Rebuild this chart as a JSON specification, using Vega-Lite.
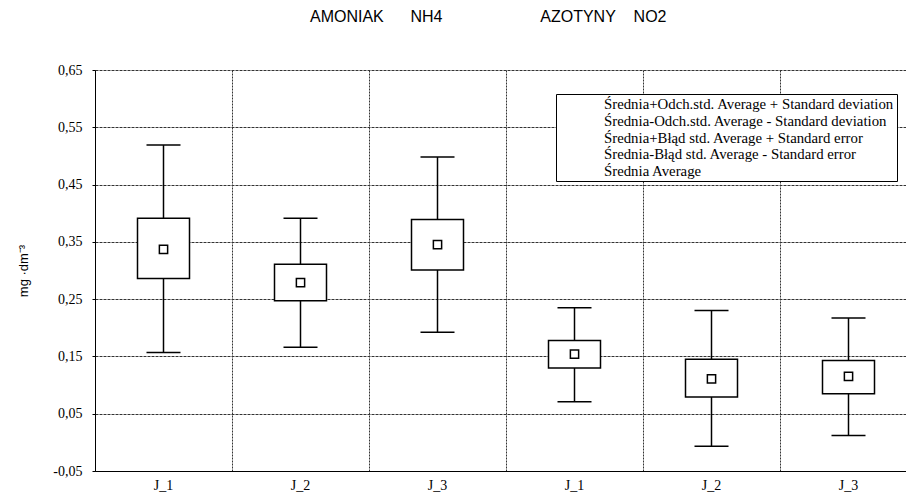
{
  "$schema": "https://vega.github.io/schema/vega-lite/v6.json",
  "autosize": "none",
  "width": 822,
  "height": 401,
  "padding": {"left": 95, "top": 70, "right": -11, "bottom": 24},
  "background": "white",
  "config": {
    "view": {"stroke": null},
    "font": "Liberation Sans",
    "locale": {"number": {"decimal": ",", "thousands": " ", "grouping": [3], "currency": ["", ""], "minus": "-"}}
  },
  "title": {
    "text": "AMONIAK\u00a0\u00a0\u00a0\u00a0\u00a0\u00a0NH4\u00a0\u00a0\u00a0\u00a0\u00a0\u00a0\u00a0\u00a0\u00a0\u00a0\u00a0\u00a0\u00a0\u00a0\u00a0\u00a0\u00a0\u00a0\u00a0\u00a0\u00a0\u00a0AZOTYNY\u00a0\u00a0\u00a0\u00a0NO2",
    "anchor": "start",
    "frame": "group",
    "dx": 215,
    "baseline": "bottom",
    "offset": 22,
    "font": "Liberation Sans",
    "fontSize": 16,
    "fontWeight": "normal",
    "color": "black"
  },
  "data": {
    "values": [
      {"cat": "J_1", "stat": "Średnia Average", "mean": 0.337, "sd_lo": 0.157, "sd_hi": 0.519, "se_lo": 0.286, "se_hi": 0.391},
      {"cat": "J_2", "stat": "Średnia Average", "mean": 0.279, "sd_lo": 0.166, "sd_hi": 0.391, "se_lo": 0.247, "se_hi": 0.311},
      {"cat": "J_3", "stat": "Średnia Average", "mean": 0.345, "sd_lo": 0.192, "sd_hi": 0.498, "se_lo": 0.301, "se_hi": 0.389},
      {"cat": "J_1\u200b", "stat": "Średnia Average", "mean": 0.154, "sd_lo": 0.071, "sd_hi": 0.235, "se_lo": 0.130, "se_hi": 0.178},
      {"cat": "J_2\u200b", "stat": "Średnia Average", "mean": 0.111, "sd_lo": -0.007, "sd_hi": 0.230, "se_lo": 0.079, "se_hi": 0.145},
      {"cat": "J_3\u200b", "stat": "Średnia Average", "mean": 0.115, "sd_lo": 0.012, "sd_hi": 0.217, "se_lo": 0.085, "se_hi": 0.143}
    ]
  },
  "resolve": {"axis": {"x": "independent"}},
  "layer": [
    {
      "mark": {"type": "rule", "color": "black", "strokeWidth": 1.5},
      "encoding": {
        "x": {
          "field": "cat",
          "type": "nominal",
          "sort": null,
          "scale": {"type": "band", "paddingInner": 0, "paddingOuter": 0},
          "axis": {
            "orient": "top",
            "title": null,
            "labels": false,
            "ticks": false,
            "domain": false,
            "bandPosition": 0,
            "grid": true,
            "gridColor": "#333333",
            "gridDash": [2, 1],
            "gridWidth": 1,
            "gridOpacity": 1
          }
        },
        "y": {
          "field": "sd_lo",
          "type": "quantitative",
          "scale": {"domain": [-0.05, 0.65], "nice": false, "zero": false},
          "axis": {
            "title": "mg ·dm⁻³",
            "titleFont": "Liberation Sans",
            "titleFontSize": 13,
            "titleFontWeight": "normal",
            "titleColor": "black",
            "titlePadding": 22,
            "values": [-0.05, 0.05, 0.15, 0.25, 0.35, 0.45, 0.55, 0.65],
            "format": ".2f",
            "labelFont": "Liberation Serif",
            "labelFontSize": 14,
            "labelColor": "black",
            "labelPadding": 10,
            "tickSize": 3,
            "tickColor": "black",
            "domainColor": "black",
            "domainWidth": 1,
            "grid": true,
            "gridColor": "#333333",
            "gridDash": [3, 1],
            "gridWidth": 1,
            "gridOpacity": 1
          }
        },
        "y2": {"field": "sd_hi"}
      }
    },
    {
      "mark": {"type": "tick", "color": "black", "size": 34, "thickness": 1.5, "opacity": 1},
      "encoding": {
        "x": {
          "field": "cat",
          "type": "nominal",
          "sort": null,
          "axis": {
            "title": null,
            "labelAngle": 0,
            "labelFont": "Liberation Serif",
            "labelFontSize": 14,
            "labelColor": "black",
            "labelPadding": 7,
            "ticks": false,
            "grid": false,
            "domainColor": "black",
            "domainWidth": 1
          }
        },
        "y": {"field": "sd_hi", "type": "quantitative"}
      }
    },
    {
      "mark": {"type": "tick", "color": "black", "size": 34, "thickness": 1.5, "opacity": 1},
      "encoding": {
        "x": {"field": "cat", "type": "nominal", "sort": null, "axis": null},
        "y": {"field": "sd_lo", "type": "quantitative"}
      }
    },
    {
      "mark": {"type": "bar", "width": 52, "fill": "white", "stroke": "black", "strokeWidth": 1.5},
      "encoding": {
        "x": {"field": "cat", "type": "nominal", "sort": null, "axis": null},
        "y": {"field": "se_lo", "type": "quantitative"},
        "y2": {"field": "se_hi"}
      }
    },
    {
      "mark": {"type": "point", "filled": false, "fill": "white", "color": "black", "stroke": "black", "strokeWidth": 1.5, "size": 225, "opacity": 1},
      "encoding": {
        "x": {"field": "cat", "type": "nominal", "sort": null, "axis": null},
        "y": {"field": "mean", "type": "quantitative"},
        "shape": {
          "field": "stat",
          "type": "nominal",
          "scale": {
            "domain": [
              "Średnia+Odch.std. Average + Standard deviation",
              "Średnia-Odch.std. Average - Standard deviation",
              "Średnia+Błąd std. Average + Standard error",
              "Średnia-Błąd std. Average - Standard error",
              "Średnia Average"
            ],
            "range": [
              "M-1.33,-0.67H1.33M0,-0.67V0.67M-1.33,0.67H1.33",
              "M0,0",
              "M-1.33,-0.55H1.33V0.55H-1.33Z",
              "M0,0",
              "M-0.55,-0.55H0.55V0.55H-0.55Z"
            ]
          },
          "legend": {
            "title": null,
            "orient": "none",
            "legendX": 461,
            "legendY": 24,
            "padding": 2,
            "symbolOffset": 12.5,
            "labelOffset": 16.5,
            "rowPadding": 0.5,
            "symbolSize": 225,
            "symbolStrokeColor": "black",
            "symbolFillColor": "white",
            "symbolStrokeWidth": 1.3,
            "symbolOpacity": 1,
            "labelFont": "Liberation Serif",
            "labelFontSize": 14.8,
            "labelColor": "black",
            "labelLimit": 500,
            "strokeColor": "black",
            "fillColor": "white",
            "encode": {
              "symbols": {
                "update": {
                  "fill": {"value": "white"},
                  "stroke": {"value": "black"},
                  "strokeWidth": {"value": 1.3},
                  "size": {"value": 225},
                  "opacity": {"value": 1},
                  "fillOpacity": {"value": 1},
                  "strokeOpacity": {"value": 1}
                }
              }
            }
          }
        }
      }
    }
  ]
}
